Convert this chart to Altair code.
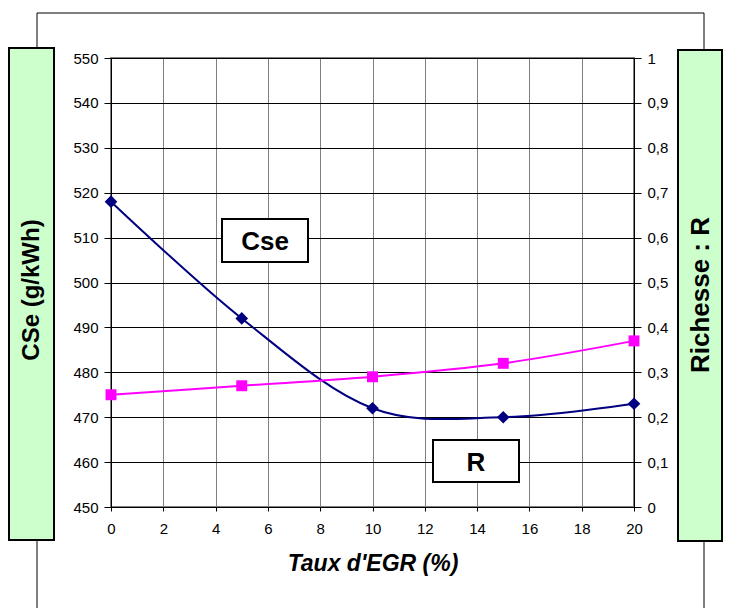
import altair as alt
import pandas as pd

# ---- data ----
egr = [0, 5, 10, 15, 20]
cse = [518, 492, 472, 470, 473]
richesse = [0.25, 0.27, 0.29, 0.32, 0.37]

x_ticks = [0, 2, 4, 6, 8, 10, 12, 14, 16, 18, 20]
left_ticks = [450, 460, 470, 480, 490, 500, 510, 520, 530, 540, 550]
right_ticks = [0, 0.1, 0.2, 0.3, 0.4, 0.5, 0.6, 0.7, 0.8, 0.9, 1.0]

df = pd.DataFrame({"egr": egr, "cse": cse, "r": richesse})
one = pd.DataFrame({"k": [0]})

FONT = "Liberation Sans"
W, H = 523, 449
LBL = 15

x_enc = alt.X(
    "egr:Q",
    scale=alt.Scale(domain=[0, 20], nice=False),
    axis=alt.Axis(
        values=x_ticks, title="Taux d'EGR (%)", titleFontStyle="italic",
        titleFontWeight="bold", titleFontSize=23, titleFont=FONT, titleColor="black",
        titlePadding=16, labelFont=FONT, labelFontSize=LBL, labelColor="black",
        labelPadding=10, tickSize=4, tickColor="black", domainColor="black",
        gridColor="#808080", gridWidth=1, labelFlush=False,
    ),
)

# ---- decorations (frame, green boxes) ----
frame = alt.Chart(one).mark_rect(
    fill="white", fillOpacity=0, stroke="black", strokeWidth=1
).encode(x=alt.value(-74), x2=alt.value(593), y=alt.value(-45), y2=alt.value(600))

green_left = alt.Chart(one).mark_rect(
    fill="#ccffcc", stroke="black", strokeWidth=2
).encode(x=alt.value(-102), x2=alt.value(-57), y=alt.value(-10), y2=alt.value(482))

green_right = alt.Chart(one).mark_rect(
    fill="#ccffcc", stroke="black", strokeWidth=2
).encode(x=alt.value(567), x2=alt.value(611), y=alt.value(-8), y2=alt.value(483))

txt_left = alt.Chart(one).mark_text(
    text="CSe (g/kWh)", angle=270, font=FONT, fontWeight="bold", fontSize=24,
    color="black", align="center", baseline="middle"
).encode(x=alt.value(-79), y=alt.value(232))

txt_right = alt.Chart(one).mark_text(
    text="Richesse : R", angle=270, font=FONT, fontWeight="bold", fontSize=26,
    color="black", align="center", baseline="middle"
).encode(x=alt.value(590), y=alt.value(237))

# ---- label boxes ----
box_cse = alt.Chart(one).mark_rect(
    fill="white", stroke="black", strokeWidth=2
).encode(x=alt.value(111), x2=alt.value(197), y=alt.value(161), y2=alt.value(204))
lab_cse = alt.Chart(one).mark_text(
    text="Cse", font=FONT, fontWeight="bold", fontSize=26, color="black",
    align="center", baseline="middle"
).encode(x=alt.value(154), y=alt.value(184))

box_r = alt.Chart(one).mark_rect(
    fill="white", stroke="black", strokeWidth=2
).encode(x=alt.value(322), x2=alt.value(408), y=alt.value(382), y2=alt.value(424))
lab_r = alt.Chart(one).mark_text(
    text="R", font=FONT, fontWeight="bold", fontSize=26, color="black",
    align="center", baseline="middle"
).encode(x=alt.value(365), y=alt.value(405))

# ---- Cse series (left axis) ----
y_left = alt.Y(
    "cse:Q",
    scale=alt.Scale(domain=[450, 550], nice=False, zero=False),
    axis=alt.Axis(
        orient="left", values=left_ticks, title=None, labelFont=FONT,
        labelFontSize=LBL, labelColor="black", labelPadding=6, tickSize=7,
        tickColor="black", domainColor="black", gridColor="black", gridWidth=1,
    ),
)
cse_line = alt.Chart(df).mark_line(
    color="#000080", strokeWidth=2, interpolate="cardinal"
).encode(x=x_enc, y=y_left)
cse_pts = alt.Chart(df).mark_point(
    shape="diamond", filled=True, color="#000080", size=160, opacity=1
).encode(x="egr:Q", y="cse:Q")
cse_layer = alt.layer(cse_line, cse_pts)

# ---- R series (right axis) ----
y_right = alt.Y(
    "r:Q",
    scale=alt.Scale(domain=[0, 1], nice=False),
    axis=alt.Axis(
        orient="right", values=right_ticks, title=None, labelFont=FONT,
        labelFontSize=LBL, labelColor="black", labelPadding=6, tickSize=7,
        tickColor="black", domainColor="black", grid=False,
        labelExpr="replace(format(datum.value, '.1~f'), '.', ',')",
    ),
)
r_line = alt.Chart(df).mark_line(
    color="#ff00ff", strokeWidth=2, interpolate="cardinal"
).encode(x="egr:Q", y=y_right)
r_pts = alt.Chart(df).mark_point(
    shape="square", filled=True, color="#ff00ff", size=120, opacity=1
).encode(x="egr:Q", y="r:Q")
r_layer = alt.layer(r_line, r_pts)

chart = alt.layer(
    frame, green_left, green_right, txt_left, txt_right,
    cse_layer, r_layer,
    box_cse, lab_cse, box_r, lab_r,
).resolve_scale(y="independent").properties(
    width=W, height=H,
    autosize=alt.AutoSizeParams(type="none"),
    padding={"left": 111, "top": 58, "right": 100, "bottom": 101},
    background="white",
).configure_view(
    stroke="#808080", strokeWidth=2
).configure_axis(
    labelFontSize=LBL, labelFont=FONT, labelColor="black"
)

chart.save("out.html", embed_options={"renderer": "svg", "actions": False})
